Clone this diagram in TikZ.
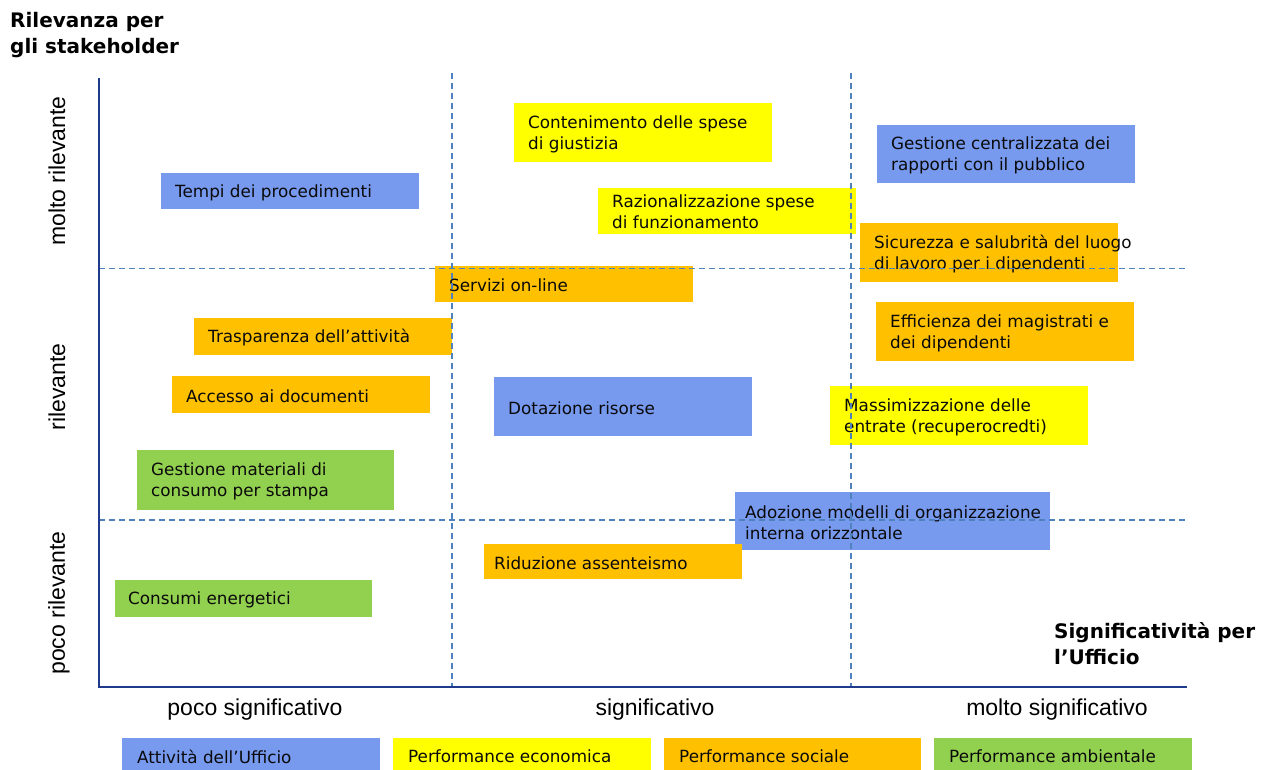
\documentclass[tikz,border=0pt]{standalone}
\usepackage{fontspec}
\setmainfont{DejaVu Sans}
\newfontfamily\axisfont{Liberation Sans}
\definecolor{cblue}{HTML}{7799EE}
\definecolor{cyellow}{HTML}{FFFF00}
\definecolor{corange}{HTML}{FFC000}
\definecolor{cgreen}{HTML}{92D050}
\definecolor{axisblue}{HTML}{1F3A8C}
\definecolor{dashblue}{HTML}{4F81BD}
\definecolor{txtcol}{HTML}{0A0A0A}
\begin{document}
\begin{tikzpicture}[x=1pt,y=-1pt,
  box/.style={anchor=north west, inner sep=0pt, outer sep=0pt, minimum width=258pt},
  onebox/.style={box, minimum height=36pt},
  twobox/.style={box, minimum height=59pt},
  txt/.style={anchor=west, inner sep=0pt, align=left, text=txtcol, yshift=-1.5pt, font=\fontsize{16.8}{21}\selectfont},
  axlbl/.style={inner sep=0pt, text=black, font=\axisfont\fontsize{23}{27}\selectfont},
  title/.style={anchor=north west, inner sep=0pt, align=left, text=black, font=\bfseries\fontsize{20}{26}\selectfont},
  dashline/.style={draw=dashblue, line width=1.8pt, dash pattern=on 6pt off 4pt},
  axisline/.style={draw=axisblue, line width=2.6pt}]
\useasboundingbox (0,0) rectangle (1269,770);

% titles
\node[title] (ytitle) at (10,12) {Rilevanza per\\gli stakeholder};
\node[title] (xtitle) at (1054,622) {Significatività per\\l’Ufficio};

% boxes
\node[twobox, fill=cyellow] (cont) at (514,103) {};
\node[txt] (contT) at ([xshift=14pt]cont.west) {Contenimento delle spese\\di giustizia};

\node[twobox, fill=cblue, minimum height=58pt] (gest) at (877,125) {};
\node[txt] (gestT) at ([xshift=14pt]gest.west) {Gestione centralizzata dei\\rapporti con il pubblico};

\node[onebox, fill=cblue] (tempi) at (161,173) {};
\node[txt] (tempiT) at ([xshift=14pt]tempi.west) {Tempi dei procedimenti};

\node[box, fill=cyellow, minimum height=46pt] (razio) at (598,188) {};
\node[txt] (razioT) at ([xshift=14pt,yshift=1pt]razio.west) {Razionalizzazione spese\\di funzionamento};

\node[twobox, fill=corange] (sicur) at (860,223) {};
\node[txt] (sicurT) at ([xshift=14pt]sicur.west) {Sicurezza e salubrità del luogo\\di lavoro per i dipendenti};

\node[onebox, fill=corange] (serv) at (435,266) {};
\node[txt] (servT) at ([xshift=14pt]serv.west) {Servizi on-line};

\node[onebox, fill=corange, minimum height=37pt] (trasp) at (194,318) {};
\node[txt] (traspT) at ([xshift=14pt]trasp.west) {Trasparenza dell’attività};

\node[twobox, fill=corange] (effic) at (876,302) {};
\node[txt] (efficT) at ([xshift=14pt]effic.west) {Efficienza dei magistrati e\\dei dipendenti};

\node[onebox, fill=corange, minimum height=37pt] (acces) at (172,376) {};
\node[txt] (accesT) at ([xshift=14pt]acces.west) {Accesso ai documenti};

\node[twobox, fill=cblue] (dotaz) at (494,377) {};
\node[txt] (dotazT) at ([xshift=14pt]dotaz.west) {Dotazione risorse};

\node[twobox, fill=cyellow] (massi) at (830,386) {};
\node[txt] (massiT) at ([xshift=14pt]massi.west) {Massimizzazione delle\\entrate (recuperocredti)};

\node[twobox, fill=cgreen, minimum width=257pt, minimum height=60pt] (mater) at (137,450) {};
\node[txt] (materT) at ([xshift=14pt]mater.west) {Gestione materiali di\\consumo per stampa};

\node[twobox, fill=cblue, minimum width=315pt, minimum height=58pt] (adoz) at (735,492) {};
\node[txt] (adozT) at ([xshift=10pt]adoz.west) {Adozione modelli di organizzazione\\interna orizzontale};

\node[onebox, fill=corange, minimum height=35pt] (ridu) at (484,544) {};
\node[txt] (riduT) at ([xshift=10pt]ridu.west) {Riduzione assenteismo};

\node[onebox, fill=cgreen, minimum width=257pt, minimum height=37pt] (cons) at (115,580) {};
\node[txt] (consT) at ([xshift=13pt]cons.west) {Consumi energetici};

% dashed grid lines
\coordinate (h1w) at (99,268.5);  \coordinate (h1e) at (1187,268.5);
\coordinate (h2w) at (99,520);    \coordinate (h2e) at (1187,520);
\coordinate (v1t) at (452,73);    \coordinate (v1b) at (452,687);
\coordinate (v2t) at (851,73);    \coordinate (v2b) at (851,687);
\draw[dashline] (h1w) -- (h1e);
\draw[dashline] (h2w) -- (h2e);
\draw[dashline] (v1t) -- (v1b);
\draw[dashline] (v2t) -- (v2b);

% axes
\coordinate (ytop) at (99,78);
\coordinate (origin) at (99,687);
\coordinate (xend) at (1187,687);
\draw[axisline] (ytop) -- (origin) -- (xend);

% axis labels
\node[axlbl, rotate=90] (ymolto) at (57,171) {molto rilevante};
\node[axlbl, rotate=90] (yril) at (57,387) {rilevante};
\node[axlbl, rotate=90] (ypoco) at (59,603) {poco rilevante};
\node[axlbl] (xpoco) at (255,710) {poco significativo};
\node[axlbl] (xsig) at (655,710) {significativo};
\node[axlbl] (xmolto) at (1057,710) {molto significativo};

% legend
\node[box, fill=cblue, minimum height=32pt] (leg1) at (122,738) {};
\node[txt] (leg1T) at ([xshift=15pt,yshift=-1pt]leg1.west) {Attività dell’Ufficio};
\node[box, fill=cyellow, minimum height=32pt] (leg2) at (393,738) {};
\node[txt] (leg2T) at ([xshift=15pt,yshift=-1pt]leg2.west) {Performance economica};
\node[box, fill=corange, minimum height=32pt, minimum width=257pt] (leg3) at (664,738) {};
\node[txt] (leg3T) at ([xshift=15pt,yshift=-1pt]leg3.west) {Performance sociale};
\node[box, fill=cgreen, minimum height=32pt] (leg4) at (934,738) {};
\node[txt] (leg4T) at ([xshift=15pt,yshift=-1pt]leg4.west) {Performance ambientale};
\end{tikzpicture}
\end{document}
